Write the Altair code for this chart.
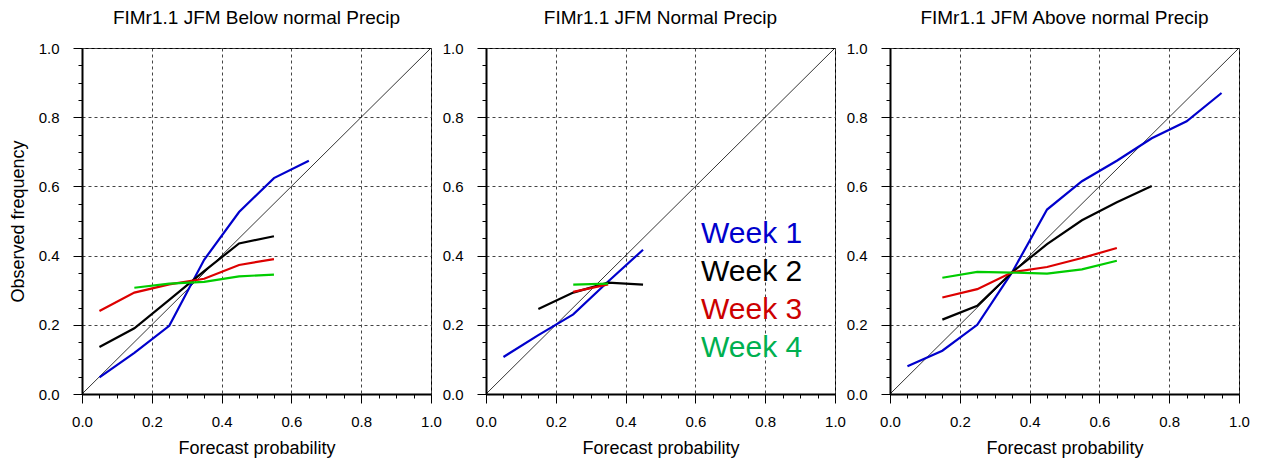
import altair as alt
import pandas as pd

# ---- data ----
weeks = ["Week 1", "Week 2", "Week 3", "Week 4"]
line_colors = ["#0000CC", "#000000", "#DD0000", "#00CC00"]
text_colors = ["#0000CC", "#000000", "#CC0000", "#00B050"]

titles = ["FIMr1.1 JFM Below normal Precip",
          "FIMr1.1 JFM Normal Precip",
          "FIMr1.1 JFM Above normal Precip"]

# Below normal
below_w1_x = [0.05, 0.15, 0.25, 0.35, 0.45, 0.55, 0.65]
below_w1_y = [0.048, 0.119, 0.197, 0.388, 0.526, 0.624, 0.674]
below_w2_x = [0.05, 0.15, 0.25, 0.35, 0.45, 0.55]
below_w2_y = [0.136, 0.190, 0.272, 0.355, 0.435, 0.456]
below_w3_x = [0.05, 0.15, 0.25, 0.35, 0.45, 0.55]
below_w3_y = [0.240, 0.293, 0.317, 0.333, 0.373, 0.390]
below_w4_x = [0.15, 0.25, 0.35, 0.45, 0.55]
below_w4_y = [0.307, 0.319, 0.324, 0.340, 0.345]

# Normal
normal_w1_x = [0.05, 0.15, 0.25, 0.35, 0.45]
normal_w1_y = [0.107, 0.170, 0.230, 0.325, 0.417]
normal_w2_x = [0.15, 0.25, 0.35, 0.45]
normal_w2_y = [0.246, 0.293, 0.322, 0.316]
normal_w3_x = [0.25, 0.35]
normal_w3_y = [0.295, 0.317]
normal_w4_x = [0.25, 0.35]
normal_w4_y = [0.316, 0.319]

# Above normal
above_w1_x = [0.05, 0.15, 0.25, 0.35, 0.45, 0.55, 0.65, 0.75, 0.85, 0.95]
above_w1_y = [0.080, 0.125, 0.200, 0.352, 0.533, 0.615, 0.674, 0.739, 0.788, 0.870]
above_w2_x = [0.15, 0.25, 0.35, 0.45, 0.55, 0.65, 0.75]
above_w2_y = [0.215, 0.255, 0.352, 0.433, 0.502, 0.554, 0.601]
above_w3_x = [0.15, 0.25, 0.35, 0.45, 0.55, 0.65]
above_w3_y = [0.279, 0.303, 0.352, 0.367, 0.393, 0.422]
above_w4_x = [0.15, 0.25, 0.35, 0.45, 0.55, 0.65]
above_w4_y = [0.336, 0.353, 0.351, 0.348, 0.360, 0.385]

diag_x = [0.0, 1.0]
diag_y = [0.0, 1.0]
tick_values = [round(i * 0.05, 2) for i in range(21)]

panels = [
    [(below_w1_x, below_w1_y), (below_w2_x, below_w2_y), (below_w3_x, below_w3_y), (below_w4_x, below_w4_y)],
    [(normal_w1_x, normal_w1_y), (normal_w2_x, normal_w2_y), (normal_w3_x, normal_w3_y), (normal_w4_x, normal_w4_y)],
    [(above_w1_x, above_w1_y), (above_w2_x, above_w2_y), (above_w3_x, above_w3_y), (above_w4_x, above_w4_y)],
]

FONT = "Liberation Sans"
MAJOR = "abs(datum.value * 5 - round(datum.value * 5)) < 0.001"
W, H = 349, 346


def make_axis(title, pad, tpad):
    return alt.Axis(
        values=tick_values,
        title=title,
        tickSize={"condition": {"test": MAJOR, "value": 9}, "value": 4},
        gridOpacity={"condition": {"test": MAJOR, "value": 1}, "value": 0},
        labelExpr=f"{MAJOR} ? format(datum.value, '.1f') : ''",
        grid=True, gridDash=[3, 3], gridColor="#444444", gridWidth=1,
        domainColor="black", domainWidth=2,
        tickColor="black", tickWidth=1,
        labelFont=FONT, labelFontSize=15, labelColor="black",
        labelPadding=pad, labelFlush=False, labelOverlap=False,
        titleFont=FONT, titleFontSize=18, titleFontWeight="normal", titleColor="black",
        titlePadding=tpad,
    )


charts = []
for p, series in enumerate(panels):
    rows = []
    for w, (xs, ys) in enumerate(series):
        for x, y in zip(xs, ys):
            rows.append({"week": weeks[w], "x": x, "y": y})
    df = pd.DataFrame(rows)
    diag = pd.DataFrame({"x": diag_x, "y": diag_y})

    xaxis = make_axis("Forecast probability", 11, 10)
    yaxis = make_axis("Observed frequency" if p == 0 else None, 14, 11)
    xs_ = alt.Scale(domain=[0, 1], nice=False)
    ys_ = alt.Scale(domain=[0, 1], nice=False)

    d = alt.Chart(diag).mark_line(color="black", strokeWidth=0.8).encode(
        x=alt.X("x:Q", scale=xs_, axis=xaxis),
        y=alt.Y("y:Q", scale=ys_, axis=yaxis),
    )
    lines = alt.Chart(df).mark_line(strokeWidth=2.2).encode(
        x=alt.X("x:Q", scale=xs_, axis=xaxis),
        y=alt.Y("y:Q", scale=ys_, axis=yaxis),
        color=alt.Color("week:N", scale=alt.Scale(domain=weeks, range=line_colors), legend=None),
        order=alt.Order("week:N", sort="descending"),
        detail="week:N",
    )
    layers = [d, lines]
    if p == 1:
        base_y = 195
        for i, wk in enumerate(weeks):
            t = alt.Chart(pd.DataFrame({"label": [wk]})).mark_text(
                align="left", baseline="alphabetic", font=FONT, fontSize=30,
                color=text_colors[i],
            ).encode(text="label:N", x=alt.value(215), y=alt.value(base_y + 38 * i))
            layers.append(t)
    ch = alt.layer(*layers).properties(
        width=W, height=H,
        title=alt.TitleParams(titles[p], font=FONT, fontSize=19, fontWeight="normal",
                              color="black", offset=13, anchor="middle"),
    )
    charts.append(ch)

chart = alt.hconcat(*charts, spacing=55, bounds="flush").configure_view(
    stroke="black", strokeWidth=1
).properties(padding={"left": 0, "top": 0, "right": 5, "bottom": 5})

chart.save("out.html", embed_options={"renderer": "svg", "actions": False})
